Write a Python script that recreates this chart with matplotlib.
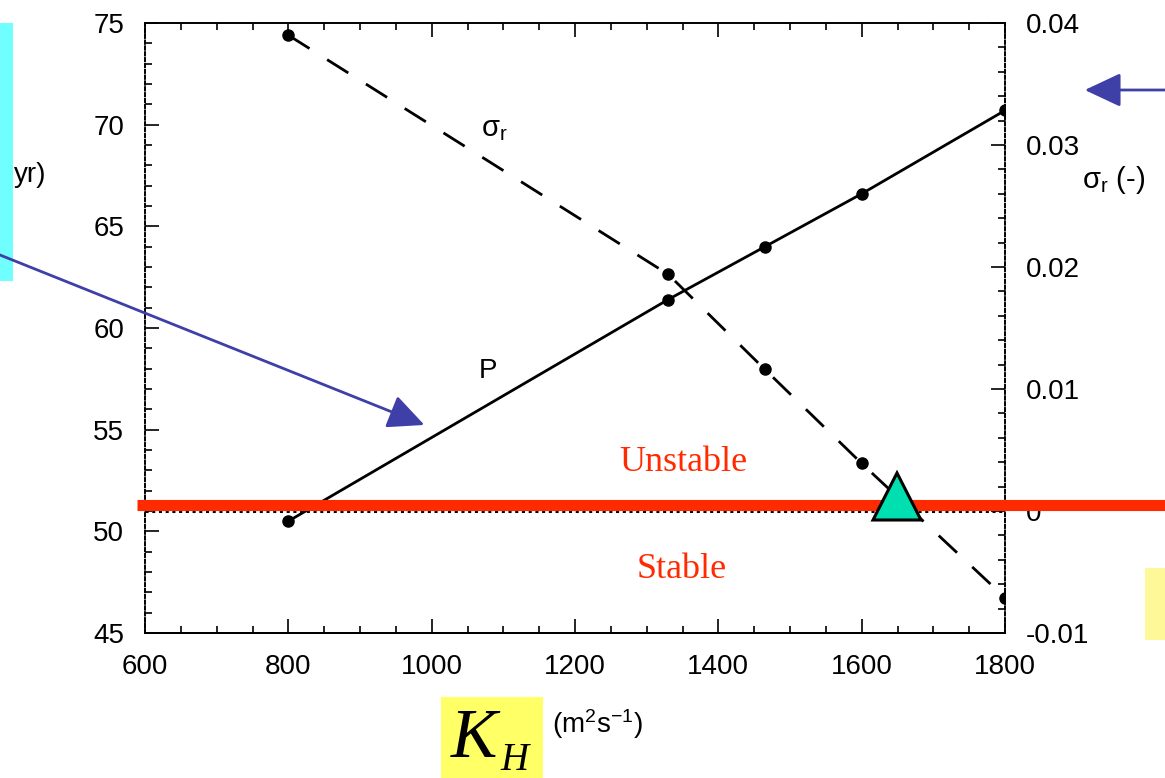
import numpy as np
import matplotlib.pyplot as plt
from matplotlib.patches import Rectangle, Polygon, FancyArrowPatch
from matplotlib.ticker import MultipleLocator

plt.rcParams['font.family'] = ['Liberation Sans', 'DejaVu Sans']
plt.rcParams['mathtext.fontset'] = 'custom'
plt.rcParams['mathtext.rm'] = 'Liberation Sans'
plt.rcParams['mathtext.it'] = 'Liberation Sans:italic'

# horizontal diffusivity K_H (m2/s)
kh = [800, 1330, 1465, 1600, 1800]
# oscillation period P (yr), left axis
period = [50.5, 61.4, 64.0, 66.6, 70.7]
# growth rate sigma_r (-), right axis
sigma_r = [0.0390, 0.0194, 0.0116, 0.0039, -0.0071]

xticks = [600, 800, 1000, 1200, 1400, 1600, 1800]
yticks_left = [45, 50, 55, 60, 65, 70, 75]
yticks_right = [-0.01, 0, 0.01, 0.02, 0.03, 0.04]

W, H = 1165, 778
fig = plt.figure(figsize=(W / 100, H / 100), dpi=100)
ax = fig.add_axes([145 / W, 1 - 633 / H, 860 / W, 610 / H])
ax2 = ax.twinx()

ax.plot(kh, period, color='black', lw=2, marker='o', ms=8, zorder=3)
ax2.plot(kh, sigma_r, color='black', lw=2, ls=(0, (9, 7.5)), marker='o', ms=8)
ax2.plot([600, 1800], [0, 0], color='black', lw=2.2, ls=(0, (1, 1.2)))

ax.set_xlim(600, 1800)
ax.set_ylim(45, 75)
ax2.set_ylim(-0.01, 0.04)
ax.set_xticks(xticks)
ax.set_yticks(yticks_left)
ax2.set_yticks(yticks_right)
ax2.set_yticklabels(['-0.01', '0', '0.01', '0.02', '0.03', '0.04'])
ax.xaxis.set_minor_locator(MultipleLocator(50))
ax.yaxis.set_minor_locator(MultipleLocator(1))
ax2.yaxis.set_minor_locator(MultipleLocator(0.002))

ax.tick_params(axis='both', which='both', direction='in', top=True, labelsize=20, pad=15, width=1.2)
ax.tick_params(which='major', length=10)
ax.tick_params(which='minor', length=5)
ax2.tick_params(axis='y', which='both', direction='in', labelsize=20, pad=15, width=1.2)
ax2.tick_params(which='major', length=10)
ax2.tick_params(which='minor', length=5)
for a in (ax, ax2):
    for side in ('left', 'right'):
        a.spines[side].set_linestyle((0, (2, 1.5)))
        a.spines[side].set_linewidth(1.2)
    a.spines['top'].set_linewidth(1.2)
    a.spines['bottom'].set_linewidth(1.4)

ax.text(1087, 69.8, r'$\mathrm{\sigma_r}$', fontsize=21, ha='center', va='center')
ax.text(1078, 57.9, 'P', fontsize=20, ha='center', va='center')

# annotation layer in pixel coordinates
ov = fig.add_axes([0, 0, 1, 1], zorder=5)
ov.set_xlim(0, W)
ov.set_ylim(H, 0)
ov.axis('off')
ov.patch.set_alpha(0)

ov.text(14, 175, 'yr)', fontsize=20, ha='left', va='center')
ov.add_patch(Rectangle((0, 23), 13, 258, color='#70ffff', lw=0))
ov.text(1082, 180, r'$\mathrm{\sigma_r}$ (-)', fontsize=21, ha='left', va='center')
ov.add_patch(Rectangle((1145, 568), 20, 72, color='#fff899', lw=0))

ov.plot([137, W], [505, 505], color='#ff2a00', lw=8, solid_capstyle='butt')
ov.add_patch(Polygon([(873, 520), (921, 520), (897, 473)], closed=True,
                     facecolor='#00dfb0', edgecolor='black', lw=2.2, zorder=4))
ov.text(683, 462, 'Unstable', fontsize=26, color='#ff2a00', family='Liberation Serif',
        ha='center', va='center')
ov.text(682, 570, 'Stable', fontsize=26, color='#ff2a00', family='Liberation Serif',
        ha='center', va='center')

blue = '#3f3fa8'
ov.add_patch(FancyArrowPatch((W + 5, 90), (1082, 90), arrowstyle='-|>,head_length=1.6,head_width=0.75',
                             mutation_scale=14, color=blue, lw=2))
ov.add_patch(FancyArrowPatch((-5, 253), (427, 426), arrowstyle='-|>,head_length=1.6,head_width=0.75',
                             mutation_scale=14, color=blue, lw=2))

ov.add_patch(Rectangle((441, 697), 102, 81, color='#ffff66', lw=0))
ov.text(451, 757, 'K', fontsize=50, style='italic', family='Liberation Serif', ha='left', va='baseline')
ov.text(500, 770, 'H', fontsize=28, style='italic', family='Liberation Serif', ha='left', va='baseline')
ov.text(552, 724, r'(m$^\mathrm{2}$s$^\mathrm{-1}$)', fontsize=20, ha='left', va='center')

fig.savefig('out.png', dpi=100)
